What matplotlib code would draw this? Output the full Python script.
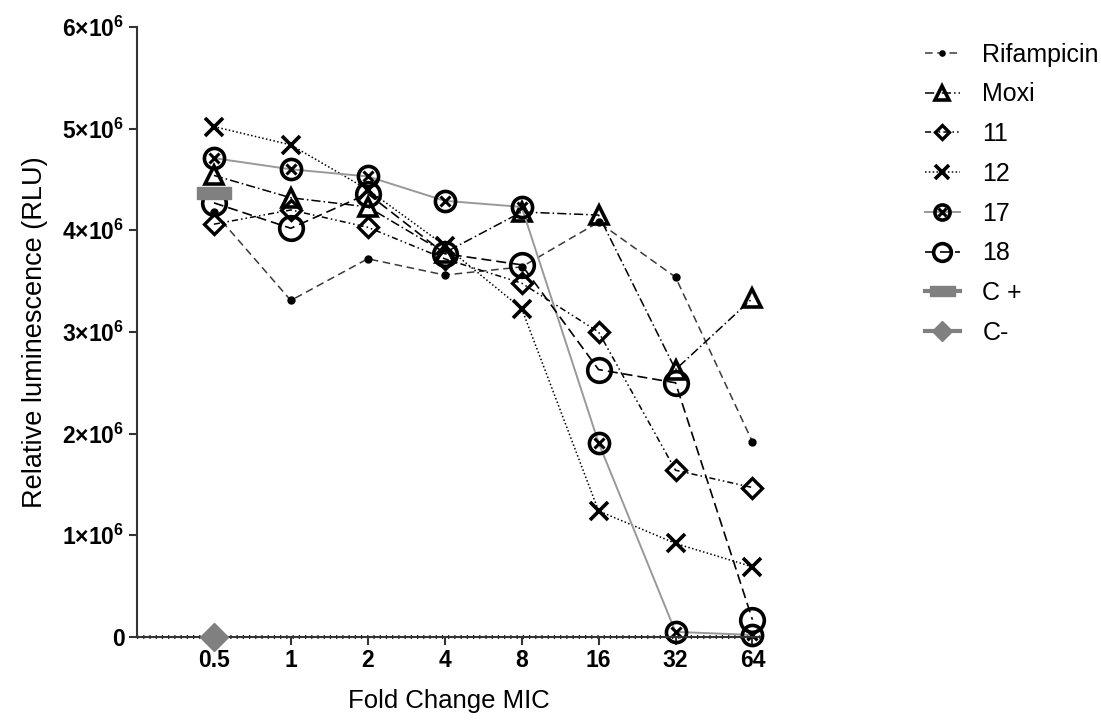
import matplotlib
matplotlib.use("Agg")
import matplotlib.pyplot as plt

plt.rcParams['font.family'] = ['Liberation Sans', 'DejaVu Sans']
plt.rcParams['mathtext.fontset'] = 'custom'
plt.rcParams['mathtext.rm'] = 'Liberation Sans'
plt.rcParams['mathtext.bf'] = 'Liberation Sans:bold'

# fold change of MIC (x) and luminescence values in units of 1e6 RLU
fold = [0.5, 1, 2, 4, 8, 16, 32, 64]
x_labels = ['0.5', '1', '2', '4', '8', '16', '32', '64']

rifampicin = [4.18, 3.31, 3.72, 3.56, 3.64, 4.08, 3.54, 1.92]
moxi = [4.54, 4.32, 4.23, 3.78, 4.18, 4.15, 2.63, 3.33]
c11 = [4.06, 4.20, 4.03, 3.72, 3.48, 3.00, 1.64, 1.47]
c12 = [5.02, 4.84, 4.40, 3.85, 3.23, 1.24, 0.92, 0.69]
c17 = [4.71, 4.60, 4.53, 4.29, 4.23, 1.91, 0.05, 0.02]
c18 = [4.27, 4.02, 4.36, 3.77, 3.66, 2.63, 2.50, 0.17]
c_pos = [4.37]
c_neg = [0.0]
ctrl_x = [0.5]

scale = 1e6
def sc(v):
    return [a * scale for a in v]

fig = plt.figure(figsize=(11.01, 7.23), dpi=100)
ax = fig.add_axes([0.1244, 0.119, 0.566, 0.8437])

# dotted baseline along the x axis
ax.plot([0.25, 64 * 2 ** 0.1], [0, 0], color='black', lw=2.8,
        linestyle=(0, (0.3, 1.3)), clip_on=False, zorder=1)

h_rif, = ax.plot(fold, sc(rifampicin), color='#3a3a3a', lw=1.1, ls=(0, (5, 3)),
                 marker='o', ms=5, mfc='black', mec='black', clip_on=False)
h_moxi, = ax.plot(fold, sc(moxi), color='black', lw=1.1, ls=(0, (6, 2, 1, 2)),
                  marker='^', ms=13, mfc='none', mec='black', mew=2.6, clip_on=False)
h_11, = ax.plot(fold, sc(c11), color='black', lw=1.1, ls=(0, (4, 2, 1, 2, 1, 2)),
                marker='D', ms=10, mfc='none', mec='black', mew=2.4, clip_on=False)
h_12, = ax.plot(fold, sc(c12), color='black', lw=1.1, ls=(0, (1, 1.5)),
                marker='x', ms=13, mec='black', mew=2.6, clip_on=False)
h_17, = ax.plot(fold, sc(c17), color='#999999', lw=1.4, ls='-',
                marker='o', ms=14.5, mfc='none', mec='black', mew=2.6, clip_on=False)
h_17x, = ax.plot(fold, sc(c17), ls='none', marker='x', ms=7, mec='black', mew=2.2,
                 clip_on=False)
h_18, = ax.plot(fold, sc(c18), color='black', lw=1.2, ls=(0, (6, 3)),
                marker='o', ms=17, mfc='none', mec='black', mew=2.6, clip_on=False)

rect = [(-1.3, -0.5), (1.3, -0.5), (1.3, 0.5), (-1.3, 0.5), (-1.3, -0.5)]
h_cp, = ax.plot(ctrl_x, sc(c_pos), color='#808080', lw=3, ls='-',
                marker=rect, ms=24, mfc='#808080', mec='#808080', clip_on=False)
h_cn, = ax.plot(ctrl_x, sc(c_neg), color='#808080', lw=3, ls='-',
                marker='D', ms=14, mfc='#808080', mec='#808080',
                clip_on=False, zorder=5)

ax.set_xscale('log', base=2)
ax.set_xlim(0.25, 64 * 2 ** 0.1)
ax.set_xticks(fold)
ax.set_xticklabels(x_labels, fontsize=16.5, fontweight='bold')
ax.minorticks_off()

ax.set_ylim(0, 6e6)
yt = [i * 1e6 for i in range(7)]
ax.set_yticks(yt)
ax.set_yticklabels(['0'] + [r'$\mathbf{%d{\times}10^{6}}$' % i for i in range(1, 7)],
                   fontsize=16.5, fontweight='bold')

for s in ['top', 'right']:
    ax.spines[s].set_visible(False)
for s in ['left', 'bottom']:
    ax.spines[s].set_linewidth(1.5)
    ax.spines[s].set_color('#333333')
ax.tick_params(axis='both', length=6, width=1.5, color='#333333', pad=3)

ax.set_xlabel('Fold Change MIC', fontsize=18.5, labelpad=12)
ax.set_ylabel('Relative luminescence (RLU)', fontsize=19.5, labelpad=10)

handles = [h_rif, h_moxi, h_11, h_12, (h_17, h_17x), h_18, h_cp, h_cn]
labels = ['Rifampicin', 'Moxi', '11', '12', '17', '18', 'C +', 'C-']
leg = fig.legend(handles, labels, loc='upper left', bbox_to_anchor=(0.84, 0.941),
                 frameon=False, fontsize=18, handlelength=1.4, handletextpad=0.9,
                 labelspacing=0.63, borderpad=0, borderaxespad=0, markerscale=0.75)

fig.savefig('out.png', dpi=100)
